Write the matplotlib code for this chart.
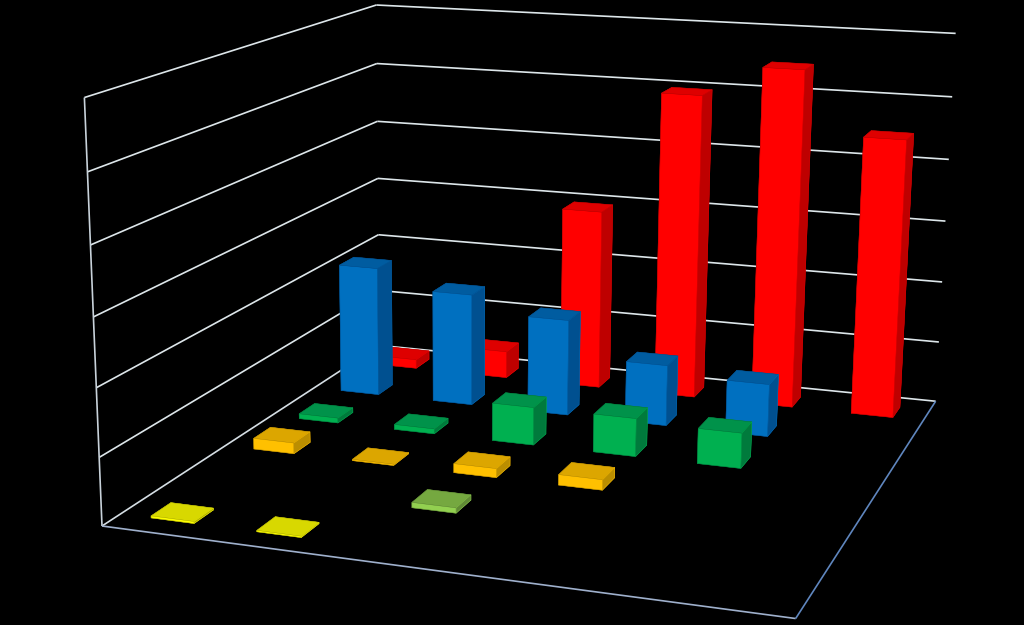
import numpy as np
import matplotlib
matplotlib.use("Agg")
import matplotlib.pyplot as plt
from mpl_toolkits.mplot3d import Axes3D  # noqa
from mpl_toolkits.mplot3d.art3d import Line3DCollection

# values per column, one list per series (front row first)
columns = [0, 1, 2, 3, 4, 5]
yellow = [0.03, 0.02, 0, 0, 0, 0]
light_green = [0, 0, 0.08, 0, 0, 0]
amber = [0.17, 0.02, 0.14, 0.16, 0, 0]
green = [0.08, 0.08, 0.6, 0.6, 0.55, 0]
blue = [2.13, 1.83, 1.56, 0.98, 0.84, 0]
red = [0.15, 0.45, 2.97, 4.98, 5.48, 4.48]
series = [yellow, light_green, amber, green, blue, red]
# front, top, side colours of each series
palette = [("#FFFF00", "#D8D800", "#B0B000"),
           ("#92D050", "#75A840", "#608A35"),
           ("#FFC000", "#DCA600", "#BB8E00"),
           ("#00B050", "#00924A", "#007A3C"),
           ("#0070C0", "#005CA0", "#005090"),
           ("#FF0000", "#DE0000", "#BE0000")]
NZ = 6

# camera calibration: world box corners -> picture pixels
world = np.array([[0, 0, 0], [6, 0, 0], [6, 6, 0], [0, 6, 0],
                  [0, 0, 6], [0, 6, 6], [6, 6, 6]], float)
pixel = np.array([[103, 526], [796, 618], [936, 402], [378, 345],
                  [83, 98], [378, 5], [955, 33]], float)
A = []
for (X, Y, Z), (u, v) in zip(world, pixel):
    A.append([X, Y, Z, 1, 0, 0, 0, 0, -u*X, -u*Y, -u*Z, -u])
    A.append([0, 0, 0, 0, X, Y, Z, 1, -v*X, -v*Y, -v*Z, -v])
P = np.linalg.svd(np.array(A))[2][-1].reshape(3, 4)
P = P / P[2, 3]

fig = plt.figure(figsize=(10.24, 6.25), dpi=100, facecolor="black")
ax = fig.add_axes([0, 0, 1, 1], projection="3d", facecolor="black")
ax.set_axis_off()
ax.computed_zorder = False
ax.apply_aspect = lambda position=None: None


def get_proj():
    # pixels (y down) -> display (y up) -> 2-D data coords of the axes
    px2disp = np.array([[1, 0, 0], [0, -1, 625], [0, 0, 1]], float)
    disp2data = ax.transData.inverted().get_matrix()
    H = disp2data @ px2disp @ P
    w = H[2]
    depth = 2*w - np.array([0, 0, 0, 1.0])*w[3]
    return np.array([H[0], H[1], depth, w])


ax.get_proj = get_proj


def add_lines(segments, color):
    lc = Line3DCollection(segments, colors=color, linewidths=1.2, zorder=1)
    ax.add_collection3d(lc, autolim=False)


grid_col = "#DDE6EA"
add_lines([[(0, 0, k), (0, 6, k)] for k in range(1, NZ + 1)]
          + [[(0, 6, k), (6, 6, k)] for k in range(NZ + 1)], grid_col)
add_lines([[(0, 0, 0), (0, 6, 0)]], "#D5DEE4")
add_lines([[(0, 0, 0), (0, 0, NZ)]], "#C8D2DA")
add_lines([[(0, 0, 0), (6, 0, 0)]], "#9FB0CC")
add_lines([[(6, 0, 0), (6, 6, 0)]], "#5F86BE")

BW, BD = 0.41, 0.36
order = 10
for r in range(len(series) - 1, -1, -1):
    front, top, side = palette[r]
    for c in reversed(columns):
        h = series[r][c]
        if h <= 0:
            continue
        # faces: -z, +z, -y, +y, -x, +x
        cols = [side, top, front, side, side, side]
        col = ax.bar3d(c + (1 - BW)/2, r + (1 - BD)/2, 0, BW, BD, h,
                       color=cols, shade=False, zsort="average",
                       linewidth=0.3)
        col.set_edgecolor("face")
        col.set_zorder(order)
        order += 1

fig.savefig("out.png", dpi=100, facecolor="black")
